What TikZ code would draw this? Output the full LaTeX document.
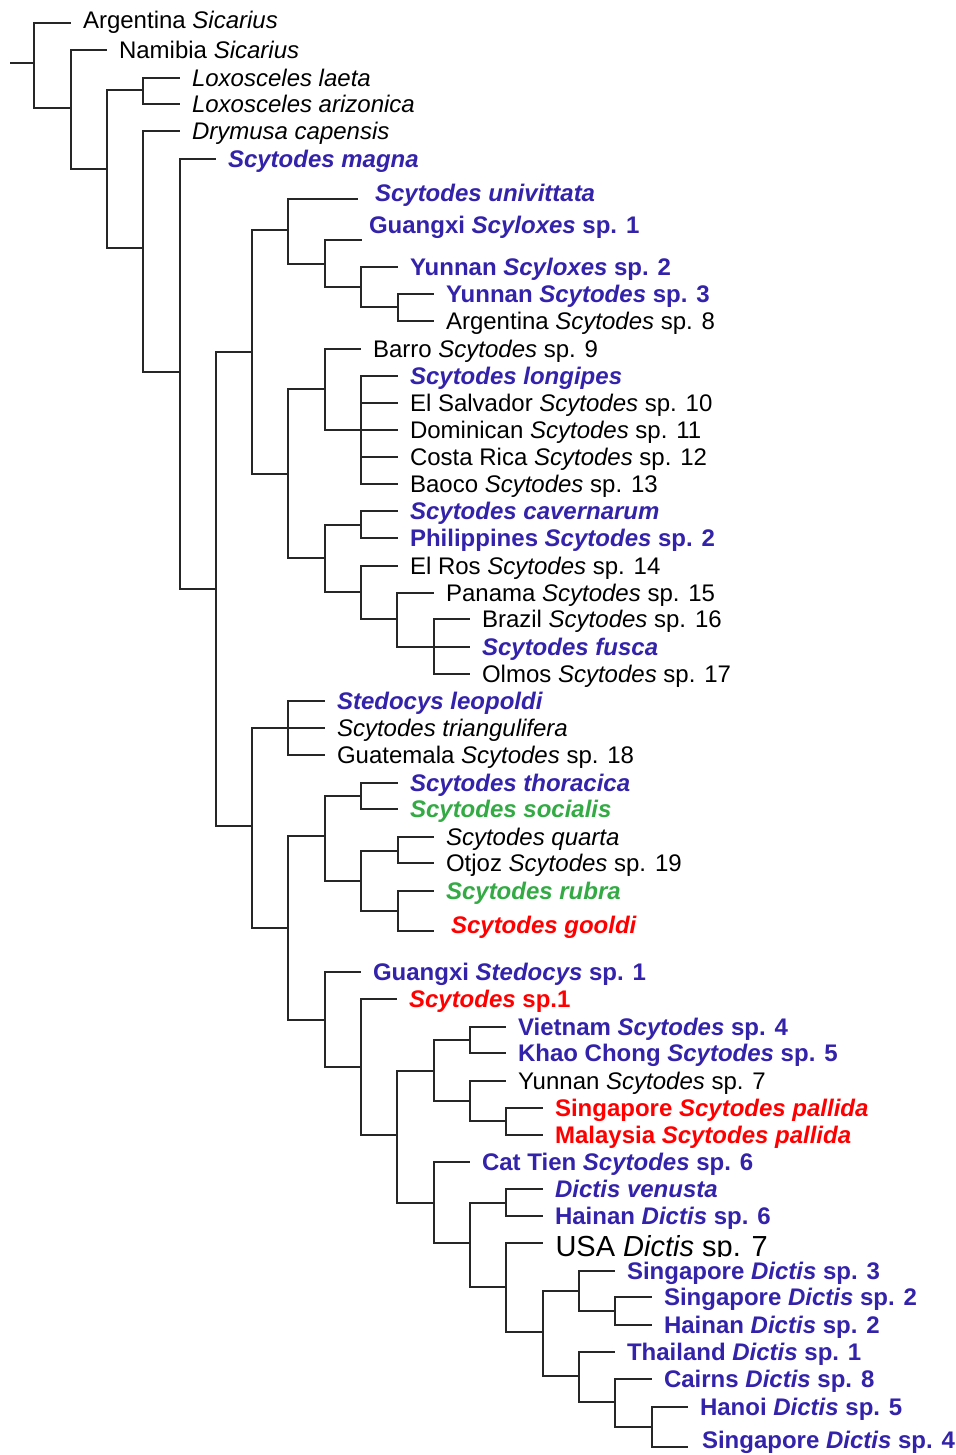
\documentclass[tikz,border=0pt]{standalone}
\usepackage{fontspec}
\setmainfont{Liberation Sans}
\definecolor{taxblue}{RGB}{51,34,170}
\definecolor{taxgreen}{RGB}{51,170,68}
\definecolor{taxred}{RGB}{255,0,0}
\newcommand{\taxfont}{\fontsize{24}{28}\selectfont}

\tikzset{
  branch/.style={line width=1.1pt, black!85},
  taxon/.style={anchor=west, inner xsep=11.5pt, inner ysep=0pt,
    text height=17pt, text depth=0pt, font=\taxfont, text=black},
  bluetax/.style={taxon, text=taxblue, font=\taxfont\bfseries},
  greentax/.style={taxon, text=taxgreen, font=\taxfont\bfseries},
  redtax/.style={taxon, text=taxred, font=\taxfont\bfseries}
}

\begin{document}
\begin{tikzpicture}[x=1pt, y=-1pt, branch]
    \useasboundingbox (0,0) rectangle (955,1455);

    % Outgroups
    \coordinate (stub) at (10,63);
    \coordinate (r0) at (34,63);
    \coordinate (n1) at (71,108);
    \coordinate (n2) at (107,169);
    \coordinate (n3) at (143,90);
    \coordinate (n4) at (143,248);
    \coordinate (tArg) at (71,23);
    \node[taxon, yshift=3pt] (argSic) at (tArg) {Argentina \textit{Sicarius}};
    \node[taxon] (namSic) at (107,50) {Namibia \textit{Sicarius}};
    \node[taxon] (loxLae) at (180,78) {\textit{Loxosceles laeta}};
    \node[taxon] (loxAri) at (180,104) {\textit{Loxosceles arizonica}};
    \node[taxon] (dryCap) at (180,131) {\textit{Drymusa capensis}};
    \draw (stub) -- (r0);
    \draw (r0) |- (tArg) (r0) |- (n1);
    \draw (n1) |- (namSic.west) (n1) |- (n2);
    \draw (n2) |- (n3) (n2) |- (n4);
    \draw (n3) |- (loxLae.west) (n3) |- (loxAri.west);
    \draw (n4) |- (dryCap.west);

    % Scytodes magna and the rest
    \coordinate (n5) at (180,372);
    \coordinate (n6) at (216,589);
    \node[bluetax] (scyMag) at (216,159) {\textit{Scytodes magna}};
    \draw (n4) |- (n5);
    \draw (n5) |- (scyMag.west) (n5) |- (n6);

    % Scyloxes clade
    \coordinate (n7) at (252,352);
    \coordinate (n8) at (288,230);
    \coordinate (n9) at (325,264);
    \coordinate (n10) at (361,287);
    \coordinate (n10b) at (398,307);
    \coordinate (tUni) at (358,199);
    \coordinate (tGxScyl) at (362,240);
    \node[bluetax, xshift=5pt, yshift=6pt] (scyUni) at (tUni) {\textit{Scytodes univittata}};
    \node[bluetax, xshift=-5pt, yshift=15pt] (gxScyl) at (tGxScyl) {Guangxi \textit{Scyloxes} sp. 1};
    \node[bluetax] (ynScyl) at (398,267) {Yunnan \textit{Scyloxes} sp. 2};
    \node[bluetax] (ynScy3) at (434,294) {Yunnan \textit{Scytodes} sp. 3};
    \node[taxon] (arScy8) at (434,321) {Argentina \textit{Scytodes} sp. 8};
    \draw (n6) |- (n7);
    \draw (n7) |- (n8);
    \draw (n8) |- (tUni) (n8) |- (n9);
    \draw (n9) |- (tGxScyl) (n9) |- (n10);
    \draw (n10) |- (ynScyl.west) (n10) |- (n10b);
    \draw (n10b) |- (ynScy3.west) (n10b) |- (arScy8.west);

    % New World clade
    \coordinate (n11) at (288,474);
    \coordinate (n12) at (325,389);
    \coordinate (n13) at (361,430);
    \coordinate (n14) at (325,558);
    \coordinate (n15) at (361,525);
    \coordinate (n16) at (361,592);
    \coordinate (n17) at (397,619);
    \coordinate (n18) at (434,647);
    \node[taxon] (barro) at (361,349) {Barro \textit{Scytodes} sp. 9};
    \node[bluetax] (scyLon) at (398,376) {\textit{Scytodes longipes}};
    \node[taxon] (elSal) at (398,403) {El Salvador \textit{Scytodes} sp. 10};
    \node[taxon] (domin) at (398,430) {Dominican \textit{Scytodes} sp. 11};
    \node[taxon] (cosRic) at (398,457) {Costa Rica \textit{Scytodes} sp. 12};
    \node[taxon] (baoco) at (398,484) {Baoco \textit{Scytodes} sp. 13};
    \node[bluetax] (scyCav) at (398,511) {\textit{Scytodes cavernarum}};
    \node[bluetax] (philip) at (398,538) {Philippines \textit{Scytodes} sp. 2};
    \node[taxon] (elRos) at (398,566) {El Ros \textit{Scytodes} sp. 14};
    \node[taxon] (panama) at (434,593) {Panama \textit{Scytodes} sp. 15};
    \node[taxon] (brazil) at (470,619) {Brazil \textit{Scytodes} sp. 16};
    \node[bluetax] (scyFus) at (470,647) {\textit{Scytodes fusca}};
    \node[taxon] (olmos) at (470,674) {Olmos \textit{Scytodes} sp. 17};
    \draw (n7) |- (n11);
    \draw (n11) |- (n12) (n11) |- (n14);
    \draw (n12) |- (barro.west) (n12) |- (n13);
    \draw (n13) |- (scyLon.west) (n13) |- (elSal.west) (n13) -- (domin.west)
          (n13) |- (cosRic.west) (n13) |- (baoco.west);
    \draw (n14) |- (n15) (n14) |- (n16);
    \draw (n15) |- (scyCav.west) (n15) |- (philip.west);
    \draw (n16) |- (elRos.west) (n16) |- (n17);
    \draw (n17) |- (panama.west) (n17) |- (n18);
    \draw (n18) |- (brazil.west) (n18) -- (scyFus.west) (n18) |- (olmos.west);

    % Stedocys and social species
    \coordinate (n20) at (252,826);
    \coordinate (n21) at (288,728);
    \coordinate (n22) at (288,928);
    \coordinate (n23) at (325,836);
    \coordinate (n24) at (361,796);
    \coordinate (n25) at (361,881);
    \coordinate (n26) at (398,851);
    \coordinate (n27) at (398,911);
    \coordinate (tGoo) at (434,931);
    \node[bluetax] (steLeo) at (325,701) {\textit{Stedocys leopoldi}};
    \node[taxon] (scyTri) at (325,728) {\textit{Scytodes triangulifera}};
    \node[taxon] (guatem) at (325,755) {Guatemala \textit{Scytodes} sp. 18};
    \node[bluetax] (scyTho) at (398,783) {\textit{Scytodes thoracica}};
    \node[greentax] (scySoc) at (398,809) {\textit{Scytodes socialis}};
    \node[taxon] (scyQua) at (434,837) {\textit{Scytodes quarta}};
    \node[taxon] (otjoz) at (434,863) {Otjoz \textit{Scytodes} sp. 19};
    \node[greentax] (scyRub) at (434,891) {\textit{Scytodes rubra}};
    \node[redtax, xshift=5pt, yshift=6pt] (scyGoo) at (tGoo) {\textit{Scytodes gooldi}};
    \draw (n6) |- (n20);
    \draw (n20) |- (n21) (n20) |- (n22);
    \draw (n21) |- (steLeo.west) (n21) -- (scyTri.west) (n21) |- (guatem.west);
    \draw (n22) |- (n23);
    \draw (n23) |- (n24) (n23) |- (n25);
    \draw (n24) |- (scyTho.west) (n24) |- (scySoc.west);
    \draw (n25) |- (n26) (n25) |- (n27);
    \draw (n26) |- (scyQua.west) (n26) |- (otjoz.west);
    \draw (n27) |- (scyRub.west) (n27) |- (tGoo);

    % Asian Scytodes
    \coordinate (n28) at (325,1020);
    \coordinate (n29) at (361,1067);
    \coordinate (n30) at (397,1135);
    \coordinate (n31) at (434,1071);
    \coordinate (n32) at (470,1040);
    \coordinate (n33) at (470,1101);
    \coordinate (n34) at (506,1121);
    \node[bluetax] (gxSted) at (361,972) {Guangxi \textit{Stedocys} sp. 1};
    \node[redtax] (scySp1) at (397,999) {\textit{Scytodes} sp.1};
    \node[bluetax] (vietnm) at (506,1027) {Vietnam \textit{Scytodes} sp. 4};
    \node[bluetax] (khaoCh) at (506,1053) {Khao Chong \textit{Scytodes} sp. 5};
    \node[taxon] (ynScy7) at (506,1081) {Yunnan \textit{Scytodes} sp. 7};
    \node[redtax] (sgPal) at (543,1108) {Singapore \textit{Scytodes pallida}};
    \node[redtax] (myPal) at (543,1135) {Malaysia \textit{Scytodes pallida}};
    \draw (n22) |- (n28);
    \draw (n28) |- (gxSted.west) (n28) |- (n29);
    \draw (n29) |- (scySp1.west) (n29) |- (n30);
    \draw (n30) |- (n31);
    \draw (n31) |- (n32) (n31) |- (n33);
    \draw (n32) |- (vietnm.west) (n32) |- (khaoCh.west);
    \draw (n33) |- (ynScy7.west) (n33) |- (n34);
    \draw (n34) |- (sgPal.west) (n34) |- (myPal.west);

    % Dictis
    \coordinate (n35) at (434,1203);
    \coordinate (n36) at (470,1243);
    \coordinate (n37) at (506,1203);
    \coordinate (n38) at (506,1287);
    \coordinate (n39) at (543,1332);
    \coordinate (n40) at (579,1291);
    \coordinate (n41) at (615,1311);
    \coordinate (n42) at (579,1376);
    \coordinate (n43) at (615,1402);
    \coordinate (n44) at (652,1427);
    \coordinate (tUsa) at (543,1243);
    \coordinate (tSg4) at (688,1447);
    \node[bluetax] (catTie) at (470,1162) {Cat Tien \textit{Scytodes} sp. 6};
    \node[bluetax] (dicVen) at (543,1189) {\textit{Dictis venusta}};
    \node[bluetax] (hnDic6) at (543,1216) {Hainan \textit{Dictis} sp. 6};
    \begin{scope}
      \clip (540,1220) rectangle (800,1256);
      \node[taxon, inner xsep=12pt, text height=21pt, font=\fontsize{29}{34}\selectfont,
            yshift=-3pt] (usaDic) at (tUsa) {USA \textit{Dictis} sp. 7};
    \end{scope}
    \node[bluetax] (sgDic3) at (615,1271) {Singapore \textit{Dictis} sp. 3};
    \node[bluetax] (sgDic2) at (652,1297) {Singapore \textit{Dictis} sp. 2};
    \node[bluetax] (hnDic2) at (652,1325) {Hainan \textit{Dictis} sp. 2};
    \node[bluetax] (thDic1) at (615,1352) {Thailand \textit{Dictis} sp. 1};
    \node[bluetax] (caDic8) at (652,1379) {Cairns \textit{Dictis} sp. 8};
    \node[bluetax] (haDic5) at (688,1407) {Hanoi \textit{Dictis} sp. 5};
    \node[bluetax, xshift=2pt, yshift=7pt] (sgDic4) at (tSg4) {Singapore \textit{Dictis} sp. 4};
    \draw (n30) |- (n35);
    \draw (n35) |- (catTie.west) (n35) |- (n36);
    \draw (n36) |- (n37) (n36) |- (n38);
    \draw (n37) |- (dicVen.west) (n37) |- (hnDic6.west);
    \draw (n38) |- (tUsa) (n38) |- (n39);
    \draw (n39) |- (n40) (n39) |- (n42);
    \draw (n40) |- (sgDic3.west) (n40) |- (n41);
    \draw (n41) |- (sgDic2.west) (n41) |- (hnDic2.west);
    \draw (n42) |- (thDic1.west) (n42) |- (n43);
    \draw (n43) |- (caDic8.west) (n43) |- (n44);
    \draw (n44) |- (haDic5.west) (n44) |- (tSg4);
\end{tikzpicture}
\end{document}
